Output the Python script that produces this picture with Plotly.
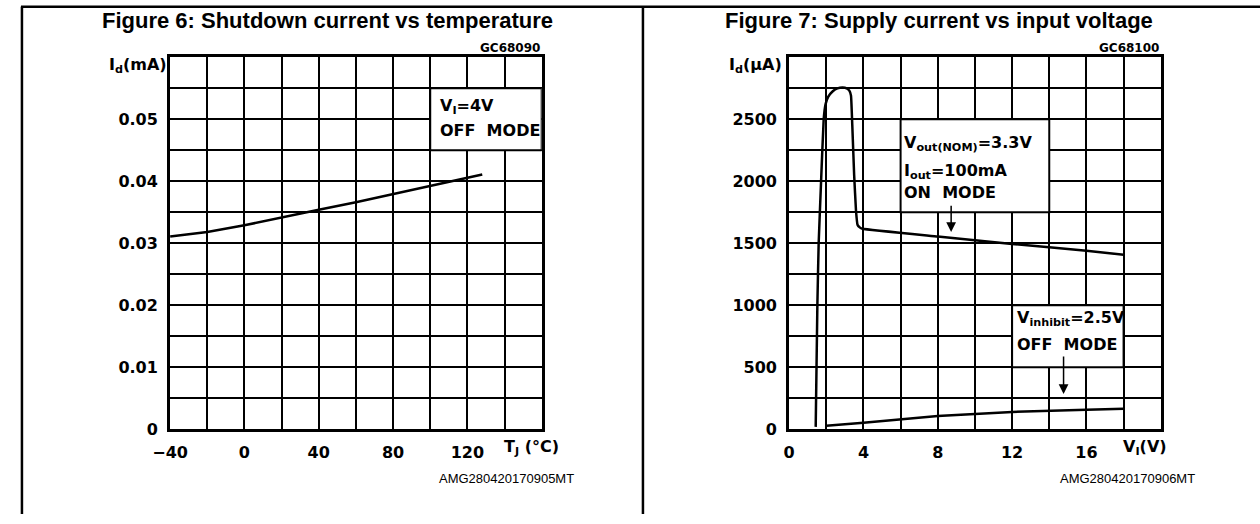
import plotly.graph_objects as go

# ---------------- Data ----------------
# Figure 6: shutdown current vs temperature
temp_c = [-40, -20, 0, 20, 40, 60, 80, 100, 120, 128]
id_ma = [0.0311, 0.0318, 0.0329, 0.0342, 0.0354, 0.0366, 0.0379, 0.0392, 0.0405, 0.0411]

# Figure 7: supply current vs input voltage (ON mode)
vin_on = [1.43, 1.52, 1.59, 1.72, 1.86, 1.96, 2.1, 2.35, 2.6, 2.88, 3.1, 3.24, 3.33,
          3.4, 3.5, 3.6, 3.68, 3.8, 3.95, 8, 12, 16, 18]
id_on = [20, 1000, 1500, 2000, 2500, 2620, 2680, 2725, 2748, 2755, 2748, 2730, 2690,
         2450, 2050, 1760, 1650, 1628, 1617, 1555, 1495, 1440, 1408]

# Figure 7: OFF mode
vin_off = [2, 4, 8, 12, 16, 18]
id_off = [29, 53, 108, 140, 158, 166]

# Tick labels
x1_ticks = [-40, -20, 0, 20, 40, 60, 80, 100, 120, 140, 160]
x1_text = ["\u221240", "", "0", "", "40", "", "80", "", "120", "", ""]
y1_ticks = [0, 0.005, 0.01, 0.015, 0.02, 0.025, 0.03, 0.035, 0.04, 0.045, 0.05, 0.055, 0.06]
y1_text = ["0", "", "0.01", "", "0.02", "", "0.03", "", "0.04", "", "0.05", "", ""]
x2_ticks = [0, 2, 4, 6, 8, 10, 12, 14, 16, 18, 20]
x2_text = ["0", "", "4", "", "8", "", "12", "", "16", "", ""]
y2_ticks = [0, 250, 500, 750, 1000, 1250, 1500, 1750, 2000, 2250, 2500, 2750, 3000]
y2_text = ["0", "", "500", "", "1000", "", "1500", "", "2000", "", "2500", "", ""]

# ---------------- Figure ----------------
W, H = 1260, 524
BOLD = dict(family="DejaVu Sans", size=16, color="black", weight="bold")
TITLE = dict(family="Liberation Sans", size=22, color="black", weight="bold")

fig = go.Figure()
fig.add_trace(go.Scatter(x=temp_c, y=id_ma, mode="lines", line=dict(color="black", width=2.5),
                         xaxis="x", yaxis="y", showlegend=False, hoverinfo="skip"))
fig.add_trace(go.Scatter(x=vin_on, y=id_on, mode="lines",
                         line=dict(color="black", width=2.5, shape="spline", smoothing=0.3),
                         xaxis="x2", yaxis="y2", showlegend=False, hoverinfo="skip"))
fig.add_trace(go.Scatter(x=vin_off, y=id_off, mode="lines", line=dict(color="black", width=2.5),
                         xaxis="x2", yaxis="y2", showlegend=False, hoverinfo="skip"))

ax_common = dict(showgrid=True, gridcolor="black", gridwidth=2, showline=True, mirror=True,
                 linecolor="black", linewidth=3, zeroline=False, ticks="", tickfont=BOLD,
                 tickmode="array", fixedrange=True)

ydom = [1 - 437.7 / H, 1 - 58.3 / H]
fig.update_layout(
    autosize=True, margin=dict(l=0, r=0, t=0, b=0),
    paper_bgcolor="white", plot_bgcolor="white",
    xaxis=dict(ax_common, domain=[154.3 / W, 531.3 / W], range=[-40, 160],
               tickvals=x1_ticks, ticktext=x1_text, anchor="y", ticklabelstandoff=6),
    yaxis=dict(ax_common, domain=ydom, range=[0, 0.06],
               tickvals=y1_ticks, ticktext=y1_text, anchor="x", ticklabelstandoff=6),
    xaxis2=dict(ax_common, domain=[782.3 / W, 1159.3 / W], range=[0, 20],
                tickvals=x2_ticks, ticktext=x2_text, anchor="y2", ticklabelstandoff=6),
    yaxis2=dict(ax_common, domain=ydom, range=[0, 3000],
                tickvals=y2_ticks, ticktext=y2_text, anchor="x2", ticklabelstandoff=6),
)

shapes = []
# white label boxes (cover grid lines, below traces)
for xr, yr, x0, x1, y0, y1 in [("x", "y", 100, 160, 0.045, 0.055),
                                ("x2", "y2", 6, 14, 1750, 2500),
                                ("x2", "y2", 12, 18, 500, 1000)]:
    shapes.append(dict(type="rect", xref=xr, yref=yr, x0=x0, x1=x1, y0=y0, y1=y1,
                       fillcolor="white", line=dict(color="black", width=2), layer="between"))
# page frame
shapes.append(dict(type="line", xref="paper", yref="paper", x0=3 / W, x1=1, y0=1 - 7 / H, y1=1 - 7 / H,
                   line=dict(color="black", width=2.5)))
shapes.append(dict(type="line", xref="paper", yref="paper", x0=4 / W, x1=4 / W, y0=0, y1=1 - 7 / H,
                   line=dict(color="black", width=2.5)))
shapes.append(dict(type="line", xref="paper", yref="paper", x0=634 / W, x1=634 / W, y0=0, y1=1 - 7 / H,
                   line=dict(color="black", width=2.5)))
fig.update_layout(shapes=shapes)


def px(x, y):
    return dict(xref="paper", yref="paper", x=x / W, y=1 - y / H)


ann = []
ann.append(dict(**px(314, 21), text="Figure 6: Shutdown current vs temperature", showarrow=False,
                font=TITLE, xanchor="center", yanchor="middle"))
ann.append(dict(**px(934, 21), text="Figure 7: Supply current vs input voltage", showarrow=False,
                font=TITLE, xanchor="center", yanchor="middle"))
small = dict(family="DejaVu Sans", size=12, color="black", weight="bold")
ann.append(dict(**px(532, 49), text="GC68090", showarrow=False, font=small, xanchor="right", yanchor="middle"))
ann.append(dict(**px(1160, 49), text="GC68100", showarrow=False, font=small, xanchor="right", yanchor="middle"))
foot = dict(family="Liberation Sans", size=13, color="black")
ann.append(dict(**px(566, 488), text="AMG280420170905MT", showarrow=False, font=foot, xanchor="right", yanchor="middle"))
ann.append(dict(**px(1196, 488), text="AMG280420170906MT", showarrow=False, font=foot, xanchor="right", yanchor="middle"))
# axis unit labels
ann.append(dict(**px(153, 67), text="I<sub>d</sub>(mA)", showarrow=False, font=BOLD, xanchor="right", yanchor="middle"))
ann.append(dict(**px(777, 67), text="I<sub>d</sub>(\u03bcA)", showarrow=False, font=BOLD, xanchor="right", yanchor="middle"))
ann.append(dict(**px(521, 456), text="T<sub>J</sub> (°C)", showarrow=False, font=BOLD, xanchor="center", yanchor="middle"))
ann.append(dict(**px(1143, 456), text="V<sub>I</sub>(V)", showarrow=False, font=BOLD, xanchor="center", yanchor="middle"))
# box texts (one annotation per line, left aligned)
box = dict(family="DejaVu Sans", size=16, color="black", weight="bold")
box_lines = [
    (426, 109, "V<sub>I</sub>=4V"),
    (426, 133, "OFF  MODE"),
    (897, 146, "V<sub>out(NOM)</sub>=3.3V"),
    (897, 175, "I<sub>out</sub>=100mA"),
    (897, 196, "ON  MODE"),
    (1011, 325, "V<sub>inhibit</sub>=2.5V"),
    (1011, 351, "OFF  MODE"),
]
for bx, by, bt in box_lines:
    ann.append(dict(**px(bx, by), text=bt, showarrow=False, font=box, xanchor="left", yanchor="middle"))
# arrows
ann.append(dict(xref="x2", yref="y2", axref="x2", ayref="y2", x=8.72, y=1590, ax=8.72, ay=1815, text="",
                showarrow=True, arrowhead=2, arrowsize=1.3, arrowwidth=1.5, arrowcolor="black"))
ann.append(dict(xref="x2", yref="y2", axref="x2", ayref="y2", x=14.77, y=285, ax=14.77, ay=600, text="",
                showarrow=True, arrowhead=2, arrowsize=1.3, arrowwidth=1.5, arrowcolor="black"))
fig.update_layout(annotations=ann)

fig.write_html(
    "out.html",
    config={"displayModeBar": False, "responsive": True},
    default_width="100vw",
    default_height="100vh",
    post_script=("document.documentElement.style.margin='0px';"
                 "document.body.style.margin='0px';"
                 "document.body.style.overflow='hidden';"
                 "document.documentElement.style.overflow='hidden';"
                 "Plotly.Plots.resize(document.getElementById('{plot_id}'));"),
)
